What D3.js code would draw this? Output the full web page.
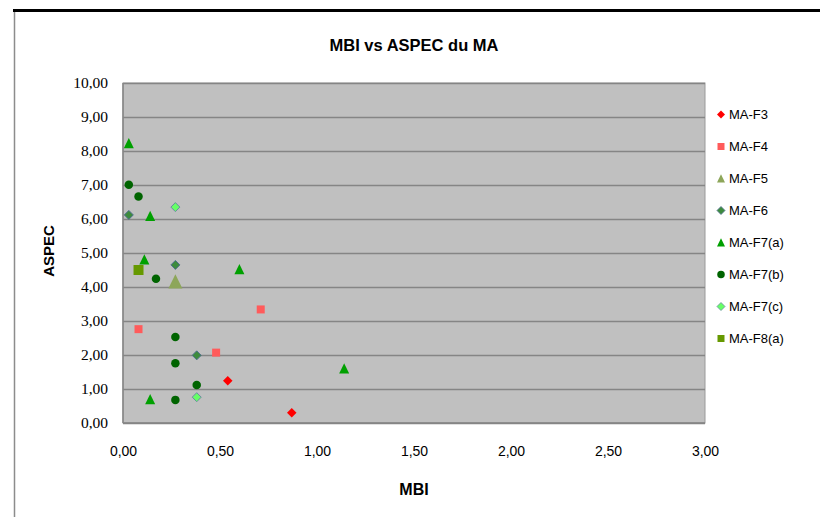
<!DOCTYPE html>
<html><head><meta charset="utf-8">
<script src="https://cdn.jsdelivr.net/npm/d3@7"></script>
<style>
html,body{margin:0;padding:0;background:#fff;}
svg{display:block;}
</style></head>
<body>
<svg id="chart" width="820" height="517"></svg>
<script>
// ---- data ----
const seriesNames = ["MA-F3","MA-F4","MA-F5","MA-F6","MA-F7(a)","MA-F7(b)","MA-F7(c)","MA-F8(a)"];
const f3X  = [0.54, 0.87];             const f3Y  = [1.24, 0.30];
const f4X  = [0.08, 0.48, 0.71];       const f4Y  = [2.76, 2.07, 3.34];
const f5X  = [0.27];                   const f5Y  = [4.16];
const f6X  = [0.03, 0.27, 0.38];       const f6Y  = [6.12, 4.65, 1.99];
const f7aX = [0.03, 0.14, 0.11, 0.60, 0.14, 1.14];
const f7aY = [8.23, 6.09, 4.81, 4.52, 0.70, 1.60];
const f7bX = [0.03, 0.08, 0.17, 0.27, 0.27, 0.38, 0.27];
const f7bY = [7.01, 6.66, 4.24, 2.53, 1.76, 1.12, 0.68];
const f7cX = [0.27, 0.38];             const f7cY = [6.35, 0.76];
const f8aX = [0.08];                   const f8aY = [4.50];
const xTicks = [0, 0.5, 1, 1.5, 2, 2.5, 3];
const yTicks = [0,1,2,3,4,5,6,7,8,9,10];
const titleText = "MBI vs ASPEC du MA";
const xTitle = "MBI";
const yTitle = "ASPEC";

// ---- styles ----
const styles = {
  "MA-F3":   {shape:"diamond",  size:9.5, fill:"#ff0000", stroke:"none", lsize:8},
  "MA-F4":   {shape:"square",   size:8,   fill:"#ff5b5b", stroke:"none", lsize:7},
  "MA-F5":   {shape:"triangle", size:14,  fill:"#8da65a", stroke:"none", lsize:8},
  "MA-F6":   {shape:"diamond",  size:9,   fill:"#3d8b3d", stroke:"#4f6f8f", lsize:8},
  "MA-F7(a)":{shape:"triangle", size:10,  fill:"#00a000", stroke:"none", lsize:8},
  "MA-F7(b)":{shape:"circle",   size:8.5, fill:"#006400", stroke:"none", lsize:7.5},
  "MA-F7(c)":{shape:"diamond",  size:9,   fill:"#66ff66", stroke:"#6a8ca0", lsize:8},
  "MA-F8(a)":{shape:"square",   size:10,  fill:"#669900", stroke:"none", lsize:7}
};
const seriesData = [
  [f3X,f3Y],[f4X,f4Y],[f5X,f5Y],[f6X,f6Y],[f7aX,f7aY],[f7bX,f7bY],[f7cX,f7cY],[f8aX,f8aY]
].map((d,i)=>({name:seriesNames[i], pts:d[0].map((x,j)=>({x:x,y:d[1][j]}))}));

function shapePath(shape, s){
  const h = s/2;
  if(shape==="diamond") return `M0,${-h}L${h},0L0,${h}L${-h},0Z`;
  if(shape==="square") return `M${-h},${-h}H${h}V${h}H${-h}Z`;
  if(shape==="triangle") return `M0,${-h*1.05}L${h},${h*1.0}L${-h},${h*1.0}Z`;
  if(shape==="circle") return `M${h},0A${h},${h} 0 1,1 ${-h},0A${h},${h} 0 1,1 ${h},0Z`;
}

const svg = d3.select("#chart");
const W = 820, H = 517;
const plot = {left:123, top:83, right:705, bottom:423};

const fr = d3.formatLocale({decimal:",", thousands:" ", grouping:[3], currency:["","€"]});
const fmt = fr.format(".2f");

const x = d3.scaleLinear().domain([0,3]).range([plot.left, plot.right]);
const y = d3.scaleLinear().domain([0,10]).range([plot.bottom, plot.top]);

// outer frame
svg.append("line").attr("x1",13).attr("x2",W).attr("y1",10.5).attr("y2",10.5)
  .attr("stroke","#000").attr("stroke-width",3);
svg.append("line").attr("x1",14.5).attr("x2",14.5).attr("y1",12).attr("y2",H)
  .attr("stroke","#8c8c8c").attr("stroke-width",1.5);

// plot background
svg.append("rect").attr("x",plot.left).attr("y",plot.top)
  .attr("width",plot.right-plot.left).attr("height",plot.bottom-plot.top)
  .attr("fill","#c0c0c0").attr("stroke","#9a9a9a").attr("stroke-width",1);

// gridlines
const grid = svg.append("g").attr("transform",`translate(${plot.left},0)`)
  .call(d3.axisLeft(y).tickValues(yTicks).tickSize(-(plot.right-plot.left)).tickFormat(""));
grid.select(".domain").remove();
grid.selectAll("line").attr("stroke","#858585").attr("stroke-width",1.6);

// axis lines
svg.append("line").attr("x1",plot.left).attr("x2",plot.left).attr("y1",plot.top).attr("y2",plot.bottom)
  .attr("stroke","#868686").attr("stroke-width",1.5);
svg.append("line").attr("x1",plot.left).attr("x2",plot.right).attr("y1",plot.bottom).attr("y2",plot.bottom)
  .attr("stroke","#868686").attr("stroke-width",1.5);

// y axis labels
const ya = svg.append("g").attr("transform",`translate(${plot.left},0)`)
  .call(d3.axisLeft(y).tickValues(yTicks).tickSize(0).tickPadding(15).tickFormat(fmt));
ya.select(".domain").remove();
ya.selectAll("text").attr("font-family","'Liberation Serif', serif").attr("font-size","15.5px").attr("fill","#000");

// x axis labels
const xa = svg.append("g").attr("transform",`translate(0,${plot.bottom})`)
  .call(d3.axisBottom(x).tickValues(xTicks).tickSize(0).tickPadding(0).tickFormat(fmt));
xa.select(".domain").remove();
xa.selectAll("text").attr("y",28).attr("dy","0.35em")
  .attr("font-family","'Liberation Sans', Arial, sans-serif").attr("font-size","14px").attr("fill","#000");

// markers
seriesData.forEach(s=>{
  const st = styles[s.name];
  svg.append("g").selectAll("path").data(s.pts).join("path")
    .attr("transform",d=>`translate(${x(d.x)},${y(d.y)})`)
    .attr("d",shapePath(st.shape, st.size))
    .attr("fill",st.fill)
    .attr("stroke",st.stroke).attr("stroke-width",st.stroke==="none"?0:1);
});

// titles
svg.append("text").attr("x",(plot.left+plot.right)/2).attr("y",51)
  .attr("text-anchor","middle").attr("font-family","'Liberation Sans', Arial, sans-serif")
  .attr("font-weight","bold").attr("font-size","16.5px").text(titleText);
svg.append("text").attr("x",(plot.left+plot.right)/2).attr("y",495)
  .attr("text-anchor","middle").attr("font-family","'Liberation Sans', Arial, sans-serif")
  .attr("font-weight","bold").attr("font-size","16px").text(xTitle);
svg.append("text").attr("transform","translate(54,251) rotate(-90)")
  .attr("text-anchor","middle").attr("font-family","'Liberation Sans', Arial, sans-serif")
  .attr("font-weight","bold").attr("font-size","15px").text(yTitle);

// legend
const legendY = d3.scalePoint().domain(seriesNames).range([114.5, 338.5]);
const lg = svg.append("g").selectAll("g").data(seriesNames).join("g")
  .attr("transform",d=>`translate(721,${legendY(d)})`);
lg.append("path").attr("d",d=>shapePath(styles[d].shape, styles[d].lsize))
  .attr("fill",d=>styles[d].fill)
  .attr("stroke",d=>styles[d].stroke).attr("stroke-width",d=>styles[d].stroke==="none"?0:0.8);
lg.append("text").attr("x",8).attr("dy","0.36em")
  .attr("font-family","'Liberation Sans', Arial, sans-serif").attr("font-size","13px").attr("fill","#000")
  .text(d=>d);
</script>
</body></html>
